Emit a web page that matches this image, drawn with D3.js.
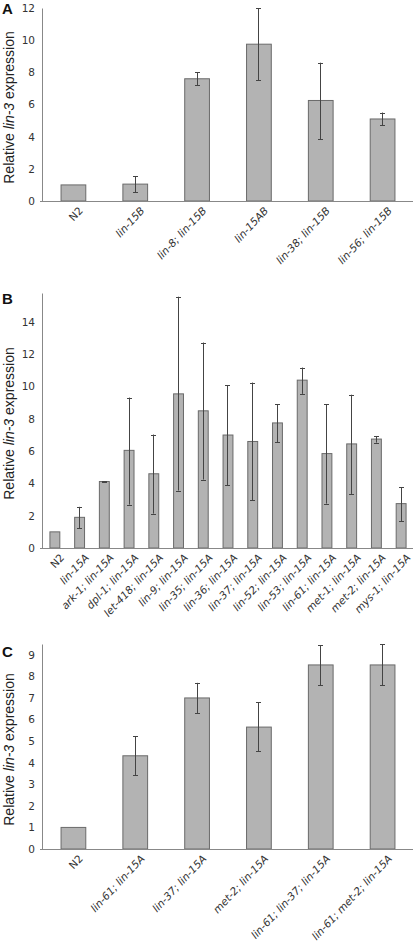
<!DOCTYPE html>
<html><head><meta charset="utf-8">
<script src="https://cdn.jsdelivr.net/npm/d3@7"></script>
<style>
body{margin:0;background:#fff;}
svg{display:block;}
.tick text{font-family:"DejaVu Sans",Verdana,sans-serif;font-size:10.5px;fill:#333;}
</style></head>
<body>
<svg id="chart" width="415" height="945"></svg>
<script>
// Panel A
const catsA = ["N2","lin-15B","lin-8; lin-15B","lin-15AB","lin-38; lin-15B","lin-56; lin-15B"];
const valsA = [1.0, 1.05, 7.6, 9.75, 6.25, 5.1];
const lowA  = [1.0, 0.55, 7.2, 7.5, 3.85, 4.7];
const highA = [1.0, 1.55, 8.0, 12.0, 8.6, 5.5];
const ticksA = [0,2,4,6,8,10,12];

// Panel B
const catsB = ["N2","lin-15A","ark-1; lin-15A","dpl-1; lin-15A","let-418; lin-15A","lin-9; lin-15A","lin-35; lin-15A","lin-36; lin-15A","lin-37; lin-15A","lin-52; lin-15A","lin-53; lin-15A","lin-61; lin-15A","met-1; lin-15A","met-2; lin-15A","mys-1; lin-15A"];
const valsB = [1.0, 1.9, 4.12, 6.05, 4.6, 9.55, 8.5, 7.0, 6.6, 7.75, 10.4, 5.85, 6.45, 6.75, 2.75];
const lowB  = [1.0, 1.24, 4.1, 2.69, 2.13, 3.56, 4.24, 3.89, 2.96, 6.55, 9.55, 2.75, 3.35, 6.53, 1.67];
const highB = [1.0, 2.55, 4.14, 9.32, 7.03, 15.57, 12.73, 10.1, 10.25, 8.9, 11.18, 8.9, 9.5, 6.94, 3.78];
const ticksB = [0,2,4,6,8,10,12,14];

// Panel C
const catsC = ["N2","lin-61; lin-15A","lin-37; lin-15A","met-2; lin-15A","lin-61; lin-37; lin-15A","lin-61; met-2; lin-15A"];
const valsC = [1.0, 4.32, 7.0, 5.65, 8.53, 8.53];
const lowC  = [1.0, 3.43, 6.3, 4.52, 7.59, 7.59];
const highC = [1.0, 5.22, 7.7, 6.8, 9.44, 9.49];
const ticksC = [0,1,2,3,4,5,6,7,8,9];

const svg = d3.select("#chart");

function panel(opts){
  const {letter, cats, vals, low, high, ticks, ymax, top, bottom, letterY} = opts;
  const left = 42, right = 413;
  const g = svg.append("g");
  const x = d3.scaleBand().domain(cats).range([left, right]).paddingInner(0.6).paddingOuter(0.3);
  const y = d3.scaleLinear().domain([0, ymax]).range([bottom, top]);

  // axes
  const yAx = g.append("g").attr("transform", `translate(${left},0)`)
    .call(d3.axisLeft(y).tickValues(ticks).tickSize(0).tickPadding(7).tickFormat(d3.format("d")));
  yAx.select(".domain").attr("stroke","#888").attr("stroke-width",1);

  const data = cats.map((c,i)=>({c, v:vals[i], lo:low[i], hi:high[i], i}));

  // bars
  g.selectAll("rect.bar").data(data).join("rect")
    .attr("x", d=>x(d.c)+0.5).attr("y", d=>y(d.v))
    .attr("width", x.bandwidth()).attr("height", d=>bottom - y(d.v))
    .attr("fill","#b3b3b3").attr("stroke","#6a6a6a").attr("stroke-width",1);

  // x axis line
  g.append("line").attr("x1", left-2).attr("x2", right).attr("y1", bottom+0.5).attr("y2", bottom+0.5)
    .attr("stroke","#888").attr("stroke-width",1);

  // error bars
  const eb = data.filter(d=>d.hi - d.lo > 0.001);
  const cx = d=>Math.round(x(d.c)+x.bandwidth()/2)+0.5;
  const cap = 2.5;
  g.selectAll("line.err").data(eb).join("line")
    .attr("x1",cx).attr("x2",cx).attr("y1",d=>y(d.hi)).attr("y2",d=>y(d.lo))
    .attr("stroke","#444").attr("stroke-width",1);
  g.selectAll("line.capt").data(eb).join("line")
    .attr("x1",d=>cx(d)-cap).attr("x2",d=>cx(d)+cap).attr("y1",d=>Math.round(y(d.hi))+0.5).attr("y2",d=>Math.round(y(d.hi))+0.5)
    .attr("stroke","#444").attr("stroke-width",1);
  g.selectAll("line.capb").data(eb).join("line")
    .attr("x1",d=>cx(d)-cap).attr("x2",d=>cx(d)+cap).attr("y1",d=>Math.round(y(d.lo))+0.5).attr("y2",d=>Math.round(y(d.lo))+0.5)
    .attr("stroke","#444").attr("stroke-width",1);

  // x labels
  g.selectAll("text.xl").data(data).join("text")
    .attr("transform", d=>`translate(${x(d.c)+x.bandwidth()/2+5},${bottom+5}) rotate(-47)`)
    .attr("text-anchor","end").attr("dy","0.72em")
    .attr("font-family",'"DejaVu Sans",Verdana,sans-serif').attr("font-size",10.5)
    .attr("font-style", d=>d.c==="N2"?"normal":"italic")
    .attr("fill","#333")
    .text(d=>d.c);

  // y label
  const yl = g.append("text")
    .attr("transform", `translate(14,${(top+bottom)/2+3}) rotate(-90)`)
    .attr("text-anchor","middle")
    .attr("font-family",'"Liberation Sans",Arial,sans-serif').attr("font-size",14).attr("fill","#222");
  yl.append("tspan").text("Relative ");
  yl.append("tspan").attr("font-style","italic").text("lin-3");
  yl.append("tspan").text(" expression");

  // panel letter
  g.append("text").attr("x",2).attr("y",letterY)
    .attr("font-family",'"Liberation Sans",Arial,sans-serif').attr("font-weight","bold").attr("font-size",15)
    .attr("fill","#111").text(letter);
}

panel({letter:"A", cats:catsA, vals:valsA, low:lowA, high:highA, ticks:ticksA, ymax:12, top:8, bottom:201, letterY:14});
panel({letter:"B", cats:catsB, vals:valsB, low:lowB, high:highB, ticks:ticksB, ymax:15.8, top:293, bottom:548, letterY:304});
panel({letter:"C", cats:catsC, vals:valsC, low:lowC, high:highC, ticks:ticksC, ymax:9.5, top:644, bottom:849, letterY:657});
</script>
</body></html>
